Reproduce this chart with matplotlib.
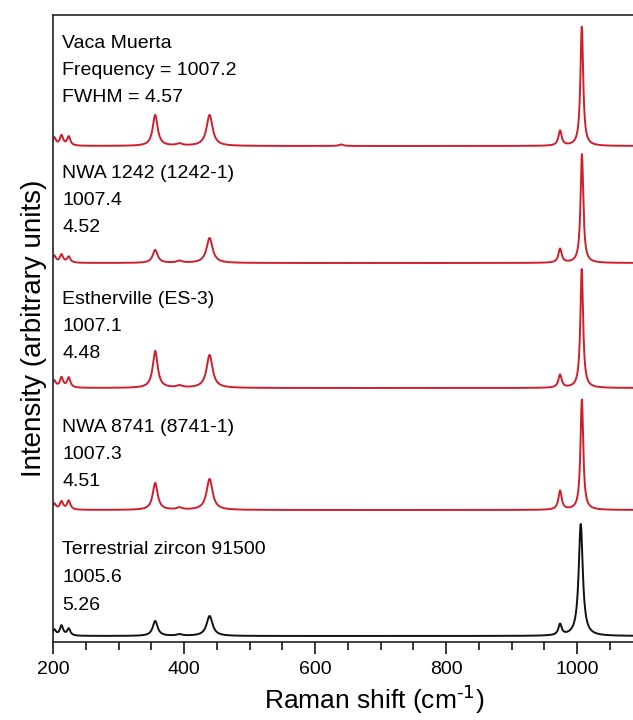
import numpy as np
import matplotlib
matplotlib.use("Agg")
import matplotlib.pyplot as plt
from matplotlib.ticker import MultipleLocator

plt.rcParams['font.family'] = ['Liberation Sans', 'DejaVu Sans']
plt.rcParams['mathtext.default'] = 'regular'

# samples, top to bottom
names = ["Vaca Muerta", "NWA 1242 (1242-1)", "Estherville (ES-3)",
         "NWA 8741 (8741-1)", "Terrestrial zircon 91500"]
freq = [1007.2, 1007.4, 1007.1, 1007.3, 1005.6]
fwhm = [4.57, 4.52, 4.48, 4.51, 5.26]
colors = ["#cf1f2e", "#cf1f2e", "#cf1f2e", "#cf1f2e", "#111111"]

# vertical offset of each spectrum (arbitrary units)
offsets = [496, 379, 254, 132, 6]

# minor zircon bands (cm-1) and their widths
band_pos = [202, 213, 224, 356, 393, 439, 640, 974]
band_width = [6, 6, 6, 9, 10, 11, 8, 6]
# band heights per sample
band_amp = [
    [8, 10, 9, 31, 2, 31, 1.5, 15],
    [7, 8, 6, 13, 2, 25, 0, 14],
    [7, 10, 10, 37, 2, 33, 0, 13],
    [6, 8, 9, 27, 2, 31, 0, 19],
    [6, 10, 7, 15, 1.5, 20, 0, 11],
]
# main band (nu3 SiO4) height and drawn width
main_amp = [120, 109, 119, 111, 112]
main_width = [5, 5, 5, 5, 7.5]

label_y = [599, 469, 343, 215, 92]

x = np.arange(200, 1180.5, 0.5)


def lorentz(x, x0, w, a):
    return a / (1 + ((x - x0) / (w / 2)) ** 2)


fig = plt.figure(figsize=(6.33, 7.2), dpi=100)
ax = fig.add_axes([53 / 633, 78 / 720, 642 / 633, 627 / 720])

for i in range(len(names)):
    y = np.zeros_like(x)
    for p, w, a in zip(band_pos, band_width, band_amp[i]):
        y += lorentz(x, p, w, a)
    y += lorentz(x, freq[i], main_width[i], main_amp[i])
    ax.plot(x, y + offsets[i], color=colors[i], lw=1.4)

    if i == 0:
        lines = [names[i], f"Frequency = {freq[i]}", f"FWHM = {fwhm[i]}"]
    else:
        lines = [names[i], f"{freq[i]}", f"{fwhm[i]}"]
    for k, t in enumerate(lines):
        ax.text(214, label_y[i] - 27.5 * k, t, fontsize=14, va='center', ha='left')

ax.set_xlim(200, 1180)
ax.set_ylim(0, 627)
ax.xaxis.set_major_locator(MultipleLocator(200))
ax.xaxis.set_minor_locator(MultipleLocator(50))
ax.set_yticks([])
ax.tick_params(axis='x', which='major', direction='out', length=8.5, width=1.1,
               labelsize=14, pad=5)
ax.tick_params(axis='x', which='minor', direction='out', length=5.5, width=1.1)
for s in ax.spines.values():
    s.set_linewidth(1.2)
    s.set_color("#222222")

ax.set_xlabel(r"Raman shift (cm$^{\text{-1}}$)", fontsize=19, labelpad=4)
ax.set_ylabel("Intensity (arbitrary units)", fontsize=20, labelpad=4)

fig.savefig("out.png", dpi=100)
